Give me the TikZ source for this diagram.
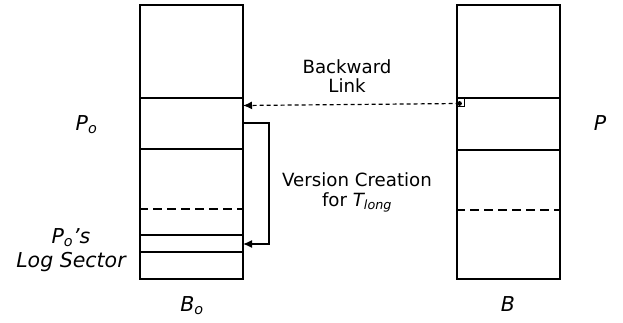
\documentclass[tikz,border=0pt]{standalone}
\usepackage{fontspec}
\setmainfont{DejaVu Sans}
\usetikzlibrary{arrows.meta}
\begin{document}
\begin{tikzpicture}[x=1pt,y=-1pt,
  boxline/.style={line width=2pt},
  sepline/.style={line width=1.2pt},
  dashsep/.style={line width=2pt,dash pattern=on 9pt off 5pt},
  linkarrow/.style={line width=1.2pt,dash pattern=on 4pt off 3pt,-{Latex[length=9pt,width=8pt]}},
  verarrow/.style={line width=1.4pt,-{Latex[length=9pt,width=8pt]}},
  txt/.style={font=\fontsize{18.2}{21}\selectfont,inner sep=0pt,anchor=base},
  lbl/.style={font=\fontsize{20.5}{24}\selectfont\itshape,inner sep=0pt,anchor=base}]
\useasboundingbox (0,0) rectangle (623,322);
% left block
\node[draw,boxline,minimum width=103pt,minimum height=274pt,inner sep=0pt,anchor=north west] (bo) at (139,4) {};
\draw[sepline] (139,98) -- (242,98);
\draw[sepline] (139,149) -- (242,149);
\draw[dashsep] (139,209) -- (242,209);
\draw[sepline] (139,235) -- (242,235);
\draw[sepline] (139,252) -- (242,252);
% right block
\node[draw,boxline,minimum width=103pt,minimum height=274pt,inner sep=0pt,anchor=north west] (b) at (456,4) {};
\draw[sepline] (456,98) -- (559,98);
\draw[sepline] (456,150) -- (559,150);
\draw[dashsep] (456,210) -- (559,210);
% link marker
\node[draw,line width=0.9pt,minimum size=8pt,inner sep=0pt,anchor=north west] (sq) at (456,98) {};
\fill (459.5,103.5) circle (2.4pt);
\coordinate (src) at (459.5,103.5);
\coordinate (dst) at (243,105.5);
\draw[linkarrow] (src) -- (dst);
% version creation bracket
\coordinate (vs) at (242,123);
\coordinate (ve) at (243,244);
\draw[verarrow] (vs) -- (269,123) -- (269,244) -- (ve);
% texts
\node[txt] (bk) at (347,73) {Backward};
\node[txt] (lk) at (347,92) {Link};
\node[txt] (vc) at (357,186) {Version Creation};
\node[txt] (ft) at (357,206) {for \textit{T\textsubscript{long}}};
\node[lbl] (po) at (86.5,130) {P\textsubscript{o}};
\node[lbl] (p) at (600,130) {P};
\node[lbl] (pos) at (71,243) {P\textsubscript{o}’s};
\node[lbl] (ls) at (71,267) {Log Sector};
\node[lbl] (bol) at (192,311) {B\textsubscript{o}};
\node[lbl] (bl2) at (508,311) {B};
\end{tikzpicture}
\end{document}
